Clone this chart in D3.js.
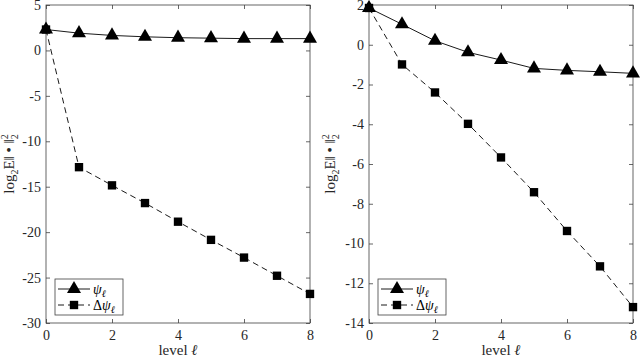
<!DOCTYPE html>
<html><head><meta charset="utf-8">
<script src="https://cdn.jsdelivr.net/npm/d3@7"></script>
<style>
body{margin:0;background:#fff;}
svg text{font-family:"Liberation Serif","Times New Roman","DejaVu Serif",serif;}
</style></head>
<body>
<svg id="c" width="640" height="358" font-family="Liberation Serif, Times New Roman, serif"></svg>
<script>
const levels = [0,1,2,3,4,5,6,7,8];
const leftPsi = [2.3,1.9,1.65,1.5,1.4,1.35,1.3,1.3,1.3];
const leftDelta = [2.3,-12.85,-14.85,-16.8,-18.85,-20.85,-22.8,-24.8,-26.8];
const rightPsi = [1.85,1.03,0.2,-0.38,-0.77,-1.19,-1.29,-1.36,-1.44];
const rightDelta = [1.85,-0.99,-2.4,-3.98,-5.67,-7.42,-9.37,-11.15,-13.2];
const xTicks = [0,2,4,6,8];
const leftYTicks = [5,0,-5,-10,-15,-20,-25,-30];
const rightYTicks = [2,0,-2,-4,-6,-8,-10,-12,-14];

const FONT = "'Liberation Serif','Times New Roman','DejaVu Serif',serif";
const svg = d3.select("#c");
const axisColor = "#404040";

function panel(x0, x1, yDomain, yTicks, psi, delta, labelX){
  const top = 5, bottom = 323;
  const x = d3.scaleLinear().domain([0,8]).range([x0,x1]);
  const y = d3.scaleLinear().domain(yDomain).range([bottom, top]);
  const g = svg.append("g").attr("font-family",FONT);
  g.append("rect").attr("x",x0).attr("y",top).attr("width",x1-x0).attr("height",bottom-top)
    .attr("fill","none").attr("stroke",axisColor).attr("stroke-width",0.8);
  const ax = g.append("g").attr("transform",`translate(0,${bottom})`)
    .call(d3.axisBottom(x).tickValues(xTicks).tickSize(-4).tickPadding(7).tickFormat(d3.format("d")));
  const axTop = g.append("g").attr("transform",`translate(0,${top})`)
    .call(d3.axisTop(x).tickValues(xTicks).tickSize(-4).tickFormat(""));
  const ay = g.append("g").attr("transform",`translate(${x0},0)`)
    .call(d3.axisLeft(y).tickValues(yTicks).tickSize(-4).tickPadding(5).tickFormat(d=> d<0 ? "-"+Math.abs(d) : String(d)));
  const ayR = g.append("g").attr("transform",`translate(${x1},0)`)
    .call(d3.axisRight(y).tickValues(yTicks).tickSize(-4).tickFormat(""));
  [ax,axTop,ay,ayR].forEach(a=>{
    a.attr("font-family",FONT).attr("font-size",14);
    a.select(".domain").remove();
    a.selectAll("line").attr("stroke",axisColor).attr("stroke-width",0.8);
    a.selectAll("text").attr("fill","#262626").attr("font-family",FONT).style("font-family",FONT).style("font-size","14px");
  });

  const line = d3.line().x((d,i)=>x(levels[i])).y(d=>y(d));
  g.append("path").datum(delta).attr("d",line).attr("fill","none")
    .attr("stroke","#000").attr("stroke-width",0.9).attr("stroke-dasharray","6,4");
  g.append("path").datum(psi).attr("d",line).attr("fill","none")
    .attr("stroke","#000").attr("stroke-width",0.9);
  const tri = d3.symbol().type(d3.symbolTriangle).size(85);
  const sq = d3.symbol().type(d3.symbolSquare).size(70);
  g.selectAll(".tri").data(psi).join("path")
    .attr("transform",(d,i)=>`translate(${x(levels[i])},${y(d)})`).attr("d",tri()).attr("fill","#000");
  g.selectAll(".sq").data(delta).join("path")
    .attr("transform",(d,i)=>`translate(${x(levels[i])},${y(d)})`).attr("d",sq()).attr("fill","#000");

  const xl = g.append("text").attr("x",(x0+x1)/2).attr("y",355).attr("text-anchor","middle")
    .style("font-size","15px").style("font-family",FONT).attr("fill","#262626");
  xl.append("tspan").text("level ");
  xl.append("tspan").attr("font-style","italic").text("ℓ");

  const yl = g.append("text").attr("transform",`translate(${labelX},164) rotate(-90)`)
    .attr("text-anchor","middle").style("font-size","15px").style("font-family",FONT).attr("fill","#262626");
  yl.append("tspan").text("log");
  yl.append("tspan").attr("dy",4).style("font-size","10px").text("2");
  yl.append("tspan").attr("dy",-4).text("E‖ • ‖");
  yl.append("tspan").attr("dy",-6).style("font-size","10px").text("2");
  yl.append("tspan").attr("dy",10).attr("dx",-5).style("font-size","10px").text("2");

  const lx = x0+9, ly = 279, lw = 68, lh = 36;
  const lg = g.append("g");
  lg.append("rect").attr("x",lx).attr("y",ly).attr("width",lw).attr("height",lh)
    .attr("fill","#fff").attr("stroke",axisColor).attr("stroke-width",0.8);
  const r1 = ly+10, r2 = ly+26;
  lg.append("line").attr("x1",lx+3).attr("x2",lx+35).attr("y1",r1).attr("y2",r1).attr("stroke","#000").attr("stroke-width",0.9);
  lg.append("path").attr("transform",`translate(${lx+19},${r1})`).attr("d",tri()).attr("fill","#000");
  lg.append("line").attr("x1",lx+3).attr("x2",lx+35).attr("y1",r2).attr("y2",r2).attr("stroke","#000").attr("stroke-width",0.9).attr("stroke-dasharray","6,4");
  lg.append("path").attr("transform",`translate(${lx+19},${r2})`).attr("d",sq()).attr("fill","#000");
  const t1 = lg.append("text").attr("x",lx+38).attr("y",r1+5).style("font-size","14px").style("font-family",FONT);
  t1.append("tspan").attr("font-style","italic").text("ψ");
  t1.append("tspan").attr("dy",3).attr("font-style","italic").style("font-size","10px").text("ℓ");
  const t2 = lg.append("text").attr("x",lx+38).attr("y",r2+5).style("font-size","14px").style("font-family",FONT);
  t2.append("tspan").text("Δ");
  t2.append("tspan").attr("font-style","italic").text("ψ");
  t2.append("tspan").attr("dy",3).attr("font-style","italic").style("font-size","10px").text("ℓ");
}

panel(46,310,[-30,5],leftYTicks,leftPsi,leftDelta,14);
panel(369,633,[-14,2],rightYTicks,rightPsi,rightDelta,335);
</script>
</body></html>
